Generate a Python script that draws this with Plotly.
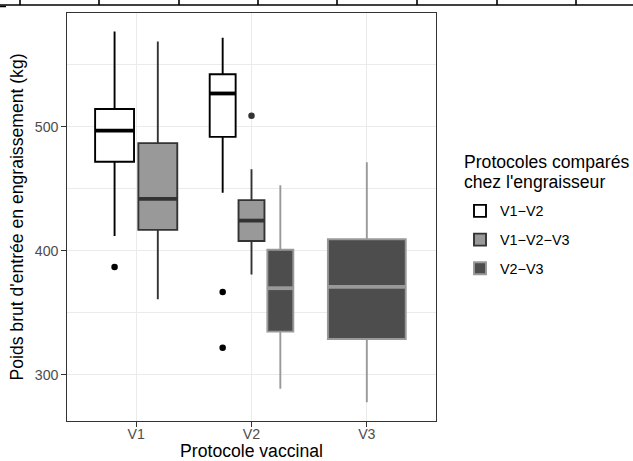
import plotly.graph_objects as go

# ---------------- data ----------------
categories = ["V1", "V2", "V3"]
groups = ["V1−V2", "V1−V2−V3", "V2−V3"]

box_protocole = ["V1", "V1", "V2", "V2", "V2", "V3"]
box_groupe = ["V1−V2", "V1−V2−V3", "V1−V2", "V1−V2−V3", "V2−V3", "V2−V3"]
box_lower = [412, 361, 447, 381, 289, 278]
box_q1 = [472, 417, 492, 408, 335, 329]
box_median = [497, 442, 527, 424.5, 370, 371]
box_q3 = [514.5, 487, 542.5, 441, 401, 409.5]
box_upper = [577, 569, 572, 466, 453, 471.5]

out_protocole = ["V1", "V2", "V2", "V2"]
out_groupe = ["V1−V2", "V1−V2", "V1−V2", "V1−V2−V3"]
out_value = [387, 367, 322, 509]

legend_title_lines = ["Protocoles comparés", "chez l'engraisseur"]

# ---------------- styles ----------------
fill = {"V1−V2": "#FFFFFF", "V1−V2−V3": "#999999", "V2−V3": "#4D4D4D"}
stroke = {"V1−V2": "#000000", "V1−V2−V3": "#333333", "V2−V3": "#999999"}
FONT = "Liberation Sans, Arial, sans-serif"
W, H = 633, 461
L, R, T, B = 67, 197, 13, 40
PW, PH = W - L - R, H - T - B

TOTAL_W, PAD = 0.75, 0.1


def dodge(cat, grp):
    present = [g for g in groups
               if any(p == cat and b == g for p, b in zip(box_protocole, box_groupe))]
    n = len(present)
    k = present.index(grp)
    slot = TOTAL_W / n
    center = categories.index(cat) + 1 - TOTAL_W / 2 + slot * (k + 0.5)
    return center, slot * (1 - PAD)


fig = go.Figure()
shown = set()
medians = []
for i in range(len(box_protocole)):
    g = box_groupe[i]
    xc, w = dodge(box_protocole[i], g)
    fig.add_trace(go.Box(
        x=[xc], q1=[box_q1[i]], median=[box_median[i]], q3=[box_q3[i]],
        lowerfence=[box_lower[i]], upperfence=[box_upper[i]],
        width=w, fillcolor=fill[g], line=dict(color=stroke[g], width=1.9),
        whiskerwidth=0, boxpoints=False, name=g, legendgroup=g,
        showlegend=g not in shown, hoverinfo="skip"))
    shown.add(g)
    medians.append((xc, w, box_median[i], g))

for xc, w, m, g in medians:
    fig.add_trace(go.Scatter(
        x=[xc - w / 2, xc + w / 2], y=[m, m], mode="lines",
        line=dict(color=stroke[g], width=3.8), showlegend=False, hoverinfo="skip"))

for p, g, v in zip(out_protocole, out_groupe, out_value):
    xc, _ = dodge(p, g)
    fig.add_trace(go.Scatter(
        x=[xc], y=[v], mode="markers",
        marker=dict(color=stroke[g], size=6.5), showlegend=False, hoverinfo="skip"))


def px_x(px):
    return (px - L) / PW


def px_y(py):
    return (H - B - py) / PH


# decorative remnant of a table border at the top of the picture
shapes = [dict(type="line", xref="paper", yref="paper", x0=px_x(0), x1=px_x(W),
               y0=px_y(5), y1=px_y(5), line=dict(color="black", width=1.6))]
for tx in [20, 99, 179, 258, 337, 417, 497, 576]:
    shapes.append(dict(type="line", xref="paper", yref="paper", x0=px_x(tx), x1=px_x(tx),
                       y0=px_y(0), y1=px_y(5), line=dict(color="black", width=1.6)))
shapes.append(dict(type="line", xref="paper", yref="paper", x0=px_x(0), x1=px_x(6),
                   y0=px_y(6.5), y1=px_y(6.5), line=dict(color="black", width=1.5)))

# legend title (two lines, ggplot-like tight spacing)
annotations = []
for j, txt in enumerate(legend_title_lines):
    annotations.append(dict(
        text=txt, xref="paper", yref="paper", x=px_x(462), y=px_y(162 + 20 * j),
        xanchor="left", yanchor="middle", showarrow=False,
        font=dict(size=17.6, color="black", family=FONT)))

axis_common = dict(
    showgrid=True, gridcolor="#EBEBEB", gridwidth=1.4, zeroline=False,
    showline=True, mirror=True, linecolor="#333333", linewidth=1.3,
    ticks="outside", ticklen=4.5, tickwidth=1.2, tickcolor="#333333",
    tickfont=dict(size=14.2, color="#4D4D4D", family=FONT),
)

fig.update_layout(
    width=W, height=H,
    margin=dict(l=L, r=R, t=T, b=B, autoexpand=False),
    plot_bgcolor="white", paper_bgcolor="white",
    font=dict(family=FONT, color="black"),
    xaxis=dict(range=[0.4, 3.6], tickvals=[1, 2, 3], ticktext=categories,
               ticklabelstandoff=-5,
               title=dict(text="Protocole vaccinal", font=dict(size=17.6), standoff=4),
               **axis_common),
    yaxis=dict(range=[262.9, 591.9], tick0=0, dtick=100,
               minor=dict(tick0=0, dtick=50, showgrid=True, gridcolor="#EBEBEB",
                          gridwidth=0.8, ticks=""),
               title=dict(text="Poids brut d'entrée en engraissement (kg)",
                          font=dict(size=17.6), standoff=6),
               **axis_common),
    legend=dict(x=px_x(460), y=px_y(195), xanchor="left", yanchor="top",
                font=dict(size=14.4), traceorder="grouped", tracegroupgap=7,
                bgcolor="rgba(0,0,0,0)"),
    annotations=annotations,
    shapes=shapes,
    showlegend=True,
)

fig.write_html("out.html")
